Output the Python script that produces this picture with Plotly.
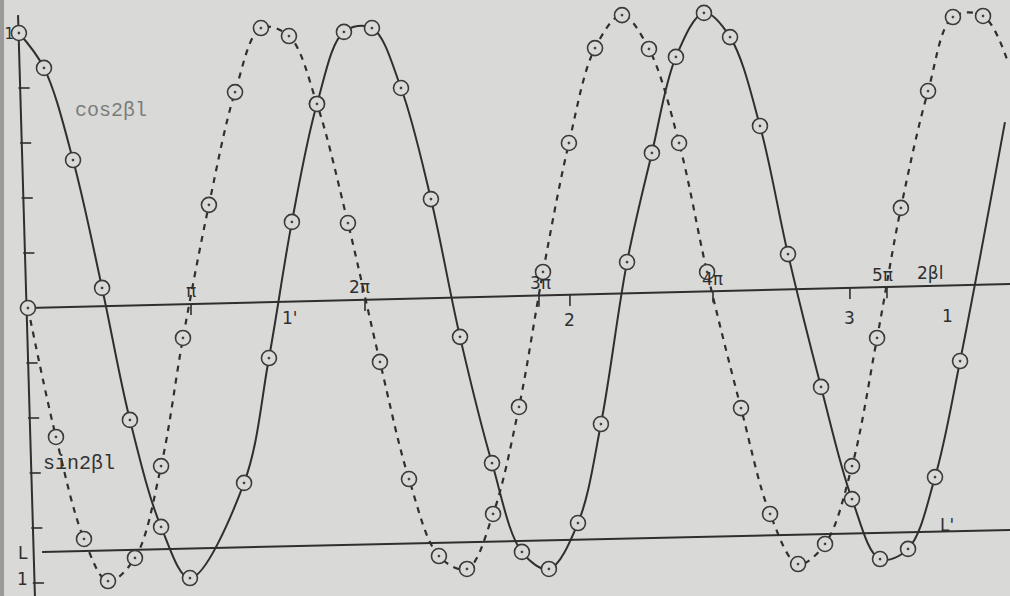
import numpy as np
import plotly.graph_objects as go

# x : 2*beta*l in units of pi ; y : relative amplitude
cos_x = [0.011, 0.155, 0.322, 0.489, 0.649, 0.828, 0.994, 1.305, 1.448, 1.580,
         1.724, 1.879, 2.040, 2.207, 2.379, 2.546, 2.730, 2.902, 3.057, 3.224,
         3.356, 3.506, 3.649, 3.787, 3.948, 4.098, 4.270, 4.431, 4.621, 4.799,
         4.960, 5.121, 5.276, 5.420]
cos_y = [1.000, 0.873, 0.538, 0.073, -0.407, -0.796, -0.982, -0.636, -0.182, 0.313,
         0.742, 1.004, 1.018, 0.800, 0.396, -0.105, -0.564, -0.887, -0.949, -0.782,
         -0.422, 0.167, 0.564, 0.913, 1.073, 0.985, 0.662, 0.196, -0.287, -0.695,
         -0.913, -0.876, -0.615, -0.193]
cos_tail_x = [5.678]
cos_tail_y = [0.676]

sin_x = [0.063, 0.224, 0.385, 0.523, 0.678, 0.828, 0.954, 1.103, 1.253, 1.402,
         1.563, 1.724, 1.902, 2.086, 2.253, 2.425, 2.586, 2.736, 2.885, 3.023,
         3.172, 3.322, 3.477, 3.632, 3.805, 3.966, 4.161, 4.328, 4.489, 4.644,
         4.799, 4.943, 5.080, 5.236, 5.379, 5.552]
sin_y = [0.000, -0.469, -0.840, -0.993, -0.909, -0.575, -0.109, 0.375, 0.785, 1.018,
         0.989, 0.742, 0.309, -0.196, -0.622, -0.902, -0.949, -0.749, -0.360, 0.131,
         0.600, 0.945, 1.065, 0.942, 0.600, 0.131, -0.364, -0.749, -0.931, -0.858,
         -0.575, -0.109, 0.364, 0.789, 1.058, 1.062]
sin_tail_x = [5.695]
sin_tail_y = [0.895]

# drawn reference lines (the sheet is slightly skewed)
axis_x = [0.063, 5.707]
axis_y = [0.000, 0.087]
L_x = [0.144, 5.707]
L_y = [-0.887, -0.807]
vert_x = [0.006, 0.103]
vert_y = [1.065, -1.047]

vtick_y = [0.8, 0.6, 0.4, 0.2, -0.2, -0.4, -0.6, -0.8, -1.0]
pi_ticks = [1, 2, 3, 4, 5]
pi_labels = ["π", "2π", "3π", "4π", "5π"]
node_ticks = [3.178, 4.787]

BG = "#d9d9d7"
INK = "#2f2f2f"

fig = go.Figure()

# left "1" (partly hidden by the first marker)
fig.add_trace(go.Scatter(x=[-0.045], y=[0.993], mode="text", text=["1"],
                         textfont=dict(family="DejaVu Sans", size=15, color=INK),
                         hoverinfo="skip"))

# reference lines
for xs, ys in [(axis_x, axis_y), (L_x, L_y), (vert_x, vert_y)]:
    fig.add_trace(go.Scatter(x=xs, y=ys, mode="lines",
                             line=dict(color=INK, width=2), hoverinfo="skip"))

# vertical axis ticks
vy_sorted = vert_y[::-1]
vx_sorted = vert_x[::-1]
vt_x = np.interp(vtick_y, vy_sorted, vx_sorted) + 0.022
fig.add_trace(go.Scatter(x=vt_x, y=vtick_y, mode="markers",
                         marker=dict(symbol="line-ew", size=8,
                                     line=dict(color=INK, width=1.6)),
                         hoverinfo="skip"))

# horizontal axis ticks (small strokes just below the axis)
ht = pi_ticks + node_ticks
ht_y = np.interp(ht, axis_x, axis_y) - 0.02
fig.add_trace(go.Scatter(x=ht, y=ht_y, mode="markers",
                         marker=dict(symbol="line-ns", size=8,
                                     line=dict(color=INK, width=1.6)),
                         hoverinfo="skip"))

# curves
fig.add_trace(go.Scatter(x=sin_x + sin_tail_x, y=sin_y + sin_tail_y, mode="lines",
                         line=dict(color=INK, width=2.2, dash="6px,6px",
                                   shape="spline", smoothing=1.0),
                         hoverinfo="skip"))
fig.add_trace(go.Scatter(x=cos_x + cos_tail_x, y=cos_y + cos_tail_y, mode="lines",
                         line=dict(color=INK, width=2.0, shape="spline", smoothing=1.0),
                         hoverinfo="skip"))

mk = dict(symbol="circle-dot", size=15, color=BG, line=dict(color="#3a3a3a", width=1.6))
fig.add_trace(go.Scatter(x=sin_x, y=sin_y, mode="markers", marker=mk, hoverinfo="skip"))
fig.add_trace(go.Scatter(x=cos_x, y=cos_y, mode="markers", marker=mk, hoverinfo="skip"))

hand = dict(family="DejaVu Sans", size=15, color=INK)
hand_big = dict(family="DejaVu Sans", size=17, color=INK)
ann = []
pi_pos_x = [1.0, 1.971, 3.006, 4.0, 4.977]
pi_base_y = np.interp(pi_pos_x, axis_x, axis_y)
for px_, py_, t in zip(pi_pos_x, pi_base_y, pi_labels):
    ann.append(dict(x=px_, y=py_ + 0.006, yanchor="bottom", text=t, showarrow=False,
                    font=hand_big, borderpad=0))
for px_, py_, t in [(1.569, -0.035, "1'"), (3.178, -0.045, "2"), (4.787, -0.035, "3"),
                    (5.345, -0.030, "1"), (0.034, -0.891, "L"), (0.029, -0.985, "1"),
                    (5.345, -0.790, "L'")]:
    ann.append(dict(x=px_, y=py_, text=t, showarrow=False, font=hand_big))
ann.append(dict(x=5.249, y=np.interp(5.249, axis_x, axis_y) + 0.006, yanchor="bottom",
                text="2βl", showarrow=False, font=hand_big, borderpad=0))
ann.append(dict(x=0.540, y=0.720, text="cos2βl", showarrow=False,
                font=dict(family="Liberation Mono", size=20, color="#7c7c7c")))
ann.append(dict(x=0.356, y=-0.564, text="sin2βl", showarrow=False,
                font=dict(family="Liberation Mono", size=20, color="#333333")))

fig.update_layout(
    width=1010, height=596, margin=dict(l=0, r=0, t=0, b=0),
    paper_bgcolor=BG, plot_bgcolor=BG, showlegend=False,
    xaxis=dict(range=[-0.0977, 5.707], visible=False, fixedrange=True),
    yaxis=dict(range=[-1.0473, 1.12], visible=False, fixedrange=True),
    annotations=ann,
    shapes=[dict(type="rect", xref="paper", yref="paper", x0=0, x1=0.004, y0=0, y1=1,
                 fillcolor="#9a9a9a", line=dict(width=0), layer="above")],
)

fig.write_html("out.html", config={"displayModeBar": False},
               post_script="document.body.style.margin='0';")
